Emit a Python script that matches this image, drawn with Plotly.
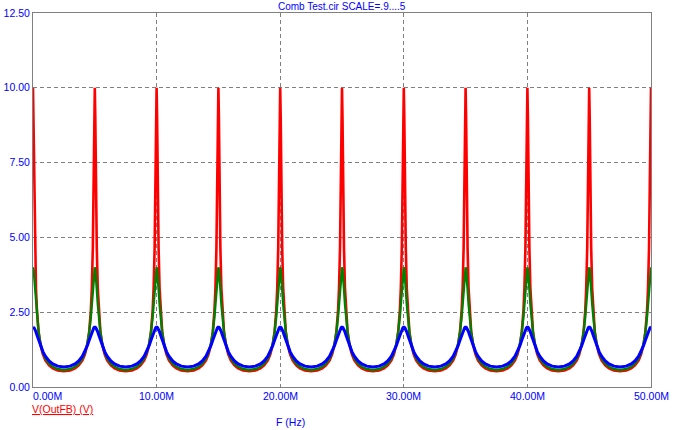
import plotly.graph_objects as go

# ---- data (one period shape, repeated every 5 MHz) ----
peak_mhz = [0, 5, 10, 15, 20, 25, 30, 35, 40, 45]
end_mhz = 50
period_offset_mhz = [0, 0.04, 0.08, 0.12, 0.16, 0.24, 0.32, 0.45, 0.6, 0.8, 1.0, 1.3, 1.6, 2.0,
                     2.5, 3.0, 3.4, 3.7, 4.0, 4.2, 4.4, 4.55, 4.68, 4.76, 4.84, 4.88, 4.92, 4.96]
v_scale_09 = [10.0, 9.03, 7.24, 5.73, 4.65, 3.31, 2.55, 1.86, 1.42, 1.09, 0.893, 0.721, 0.623, 0.553,
              0.526, 0.553, 0.623, 0.721, 0.893, 1.09, 1.42, 1.86, 2.55, 3.31, 4.65, 5.73, 7.24, 9.03]
v_scale_075 = [4.0, 3.94, 3.78, 3.55, 3.28, 2.77, 2.34, 1.84, 1.46, 1.15, 0.954, 0.777, 0.674, 0.600,
               0.571, 0.600, 0.674, 0.777, 0.954, 1.15, 1.46, 1.84, 2.34, 2.77, 3.28, 3.55, 3.78, 3.94]
v_scale_05 = [2.0, 1.995, 1.98, 1.956, 1.924, 1.841, 1.741, 1.570, 1.385, 1.183, 1.031, 0.873, 0.772, 0.697,
              0.667, 0.697, 0.772, 0.873, 1.031, 1.183, 1.385, 1.570, 1.741, 1.841, 1.924, 1.956, 1.98, 1.995]

y_ticks = [0, 2.5, 5, 7.5, 10, 12.5]
y_tick_text = ["0.00", "2.50", "5.00", "7.50", "10.00", "12.50"]
x_ticks_mhz = [0, 10, 20, 30, 40, 50]
x_tick_text = ["0.00M", "10.00M", "20.00M", "30.00M", "40.00M", "50.00M"]

title_text = "Comb Test.cir SCALE=.9....5"
trace_label = "V(OutFB) (V)"
x_title = "F (Hz)"


def build(shape):
    xs, ys = [], []
    for p in peak_mhz:
        for off, v in zip(period_offset_mhz, shape):
            xs.append((p + off) * 1e6)
            ys.append(v)
    xs.append(end_mhz * 1e6)
    ys.append(shape[0])
    return xs, ys


fig = go.Figure()
for shape, color, w in [(v_scale_09, "#FF0000", 2.6), (v_scale_075, "#008000", 2.4), (v_scale_05, "#0000FF", 3.0)]:
    xs, ys = build(shape)
    fig.add_trace(go.Scatter(x=xs, y=ys, mode="lines", line=dict(color=color, width=w),
                             showlegend=False, hoverinfo="skip"))

font_main = "Arial, Liberation Sans, sans-serif"
blue = "#0000FF"
grey = "#808080"
L, R, T, B = 33, 26, 13, 43
W, H = 677, 430
pw = W - L - R
ph = H - T - B

fig.update_layout(
    width=W, height=H,
    margin=dict(l=L, r=R, t=T, b=B, autoexpand=False),
    paper_bgcolor="white", plot_bgcolor="white",
    font=dict(family=font_main, size=10.5, color=blue),
)
fig.update_xaxes(
    range=[0, 50e6], showline=True, linecolor=grey, linewidth=1, mirror=True,
    tickvals=[v * 1e6 for v in x_ticks_mhz], ticktext=[""] * len(x_ticks_mhz),
    showgrid=True, gridcolor=grey, griddash="4px,3px", gridwidth=1,
    zeroline=False, ticks="", automargin=False,
)
fig.update_yaxes(
    range=[0, 12.5], showline=True, linecolor=grey, linewidth=1, mirror=True,
    tickvals=y_ticks, ticktext=y_tick_text, tickfont=dict(color=blue, size=10.5, family=font_main),
    showgrid=True, gridcolor=grey, griddash="4px,3px", gridwidth=1,
    zeroline=False, ticks="", ticklabelstandoff=0, automargin=False,
)

for v, t in zip(x_ticks_mhz, x_tick_text):
    fig.add_annotation(x=v * 1e6, y=0, xref="x", yref="paper", text=t, showarrow=False,
                       xanchor="left" if v == 0 else "center", yanchor="top", yshift=-1,
                       xshift=-2 if v == 0 else 0,
                       font=dict(color=blue, size=10.5, family=font_main))

fig.add_annotation(x=0.5, y=1, xref="paper", yref="paper", text=title_text, showarrow=False,
                   xanchor="center", yanchor="bottom", yshift=-1,
                   font=dict(color=blue, size=10, family=font_main))
fig.add_annotation(x=0, y=0, xref="paper", yref="paper", text="<u>" + trace_label + "</u>", showarrow=False,
                   xanchor="left", yanchor="top", yshift=-14, xshift=-3,
                   font=dict(color="#FF0000", size=10.5, family=font_main))
fig.add_annotation(x=(290 - L) / pw, y=0, xref="paper", yref="paper", text=x_title, showarrow=False,
                   xanchor="center", yanchor="top", yshift=-27,
                   font=dict(color=blue, size=10.5, family=font_main))

fig.write_html("out.html", config={"displayModeBar": False},
               post_script="document.body.style.margin='0';")
